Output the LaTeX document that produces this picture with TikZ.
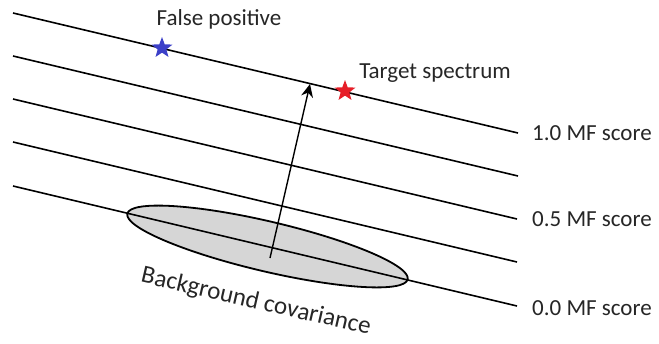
\documentclass[tikz,border=0pt]{standalone}
\usepackage{fontspec}
\setmainfont{Carlito}
\usetikzlibrary{shapes.geometric,arrows.meta}
\begin{document}
\begin{tikzpicture}[x=1pt,y=-1pt,
  scoreline/.style={line width=1.6pt},
  lbl/.style={font=\fontsize{23}{26}\selectfont, inner sep=0pt, text=black!85},
  scorelbl/.style={lbl, anchor=west},
  starmark/.style={star, star points=5, star point ratio=2.4, minimum size=22pt, inner sep=0pt},
  cov/.style={ellipse, draw, line width=1.8pt, fill=black!16, minimum width=288pt, minimum height=50pt, inner sep=0pt, rotate=-13.2}
]
\useasboundingbox (0,0) rectangle (659,343);
% ellipse
\node[cov] (ell) at (267.5,246.5) {};
% score lines
\coordinate (s1) at (13,13);  \coordinate (e1) at (518,133);
\coordinate (s2) at (13,56);  \coordinate (e2) at (518,176);
\coordinate (s3) at (13,99);  \coordinate (e3) at (517,219);
\coordinate (s4) at (13,142); \coordinate (e4) at (517,262);
\coordinate (s5) at (13,186); \coordinate (e5) at (517,306);
\draw[scoreline] (s1) -- (e1);
\draw[scoreline] (s2) -- (e2);
\draw[scoreline] (s3) -- (e3);
\draw[scoreline] (s4) -- (e4);
\draw[scoreline] (s5) -- (e5);
% labels
\node[scorelbl] (l10) at (532,133) {1.0 MF score};
\node[scorelbl] (l05) at (532,219) {0.5 MF score};
\node[scorelbl] (l00) at (532,308) {0.0 MF score};
\node[lbl] (fp) at (219,19) {False positive};
\node[lbl] (ts) at (435,73) {Target spectrum};
\node[lbl, font=\fontsize{25}{28}\selectfont, rotate=-13] (bc) at (256,302) {Background covariance};
% stars
\node[starmark, fill={rgb,255:red,60;green,64;blue,200}] (fpstar) at (162,48) {};
\node[starmark, fill={rgb,255:red,230;green,30;blue,40}] (tsstar) at (345,91) {};
% arrow
\coordinate (a0) at (270,258);
\coordinate (a1) at (310,84);
\draw[line width=1.4pt, -{Stealth[length=13pt,width=12pt]}] (a0) -- (a1);
\end{tikzpicture}
\end{document}
